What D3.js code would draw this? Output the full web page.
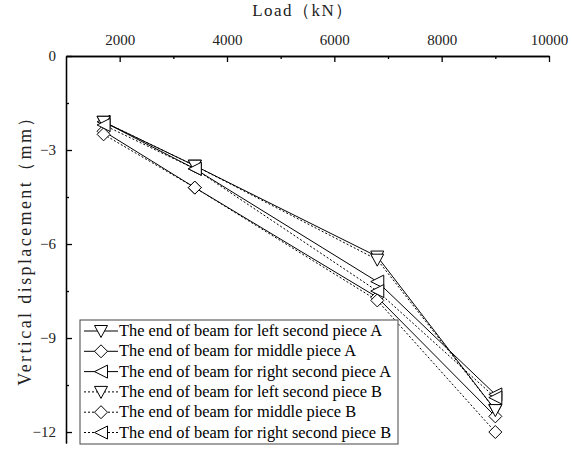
<!DOCTYPE html>
<html>
<head>
<meta charset="utf-8">
<script src="https://cdnjs.cloudflare.com/ajax/libs/d3/7.8.5/d3.min.js"></script>
<style>
  body { margin: 0; background: #fff; }
  svg { display: block; }
</style>
</head>
<body>
<svg width="572" height="453"></svg>
<script>
// load steps (kN)
var loads = [1700, 3400, 6800, 9000];

// vertical displacement (mm)
var leftA   = [-2.1, -3.5, -6.4, -11.3];
var middleA = [-2.4, -4.2, -7.7, -11.5];
var rightA  = [-2.1, -3.6, -7.2, -10.8];
var leftB   = [-2.1, -3.5, -6.5, -11.3];
var middleB = [-2.5, -4.2, -7.8, -12.0];
var rightB  = [-2.2, -3.6, -7.5, -10.9];

var seriesNames = [
  "The end of beam for left second piece A",
  "The end of beam for middle piece A",
  "The end of beam for right second piece A",
  "The end of beam for left second piece B",
  "The end of beam for middle piece B",
  "The end of beam for right second piece B"
];

var xTicks = [2000, 4000, 6000, 8000, 10000];
var yTicks = [0, -3, -6, -9, -12];

var series = [
  {name: seriesNames[0], values: leftA,   marker: "down",    dash: null},
  {name: seriesNames[1], values: middleA, marker: "diamond", dash: null},
  {name: seriesNames[2], values: rightA,  marker: "left",    dash: null},
  {name: seriesNames[3], values: leftB,   marker: "down",    dash: "2,2"},
  {name: seriesNames[4], values: middleB, marker: "diamond", dash: "2,2"},
  {name: seriesNames[5], values: rightB,  marker: "left",    dash: "2,2"}
];

var svg = d3.select("svg");

var x = d3.scaleLinear().domain([1000, 10000]).range([66, 549]);
var y = d3.scaleLinear().domain([0, -12.35]).range([56, 443]);

function markerPath(type) {
  if (type == "down") return "M-6.5,-5.5L6.5,-5.5L0,6.5Z";
  if (type == "left") return "M-6.5,0L6.5,-6.5L6.5,6.5Z";
  return "M0,-6.5L6.5,0L0,6.5L-6.5,0Z";
}

// top axis
var xAxis = svg.append("g")
    .attr("transform", "translate(0," + y(0) + ")")
    .call(d3.axisTop(x).tickValues(xTicks).tickSize(-6).tickSizeOuter(0).tickFormat(d3.format("d")));
svg.append("g")
    .attr("transform", "translate(0," + y(0) + ")")
    .call(d3.axisTop(x).tickValues([3000, 5000, 7000, 9000]).tickSize(-3).tickSizeOuter(0).tickFormat(""));

// left axis
var yAxis = svg.append("g")
    .attr("transform", "translate(" + x(1000) + ",0)")
    .call(d3.axisLeft(y).tickValues(yTicks).tickSize(-6).tickSizeOuter(0));
svg.append("g")
    .attr("transform", "translate(" + x(1000) + ",0)")
    .call(d3.axisLeft(y).tickValues([-1.5, -4.5, -7.5, -10.5]).tickSize(-3).tickSizeOuter(0).tickFormat(""));

svg.selectAll(".domain").attr("stroke", "#000").attr("stroke-width", 1.3);
svg.selectAll(".tick line").attr("stroke", "#000").attr("stroke-width", 1.3);
svg.selectAll(".tick text")
    .attr("font-family", "'Liberation Serif', serif")
    .attr("font-size", 15)
    .attr("fill", "#222");
xAxis.selectAll(".tick text").attr("y", -11);
yAxis.selectAll(".tick text").attr("x", -10);

// axis titles
svg.append("text")
    .attr("x", 303).attr("y", 16)
    .attr("text-anchor", "middle")
    .attr("font-family", "'Liberation Serif', serif")
    .attr("font-size", 17)
    .attr("letter-spacing", 1.5)
    .attr("fill", "#222")
    .text("Load（kN）");

svg.append("text")
    .attr("transform", "translate(31," + 246 + ") rotate(-90)")
    .attr("text-anchor", "middle")
    .attr("font-family", "'Liberation Serif', serif")
    .attr("font-size", 18)
    .attr("letter-spacing", 2.4)
    .attr("fill", "#222")
    .text("Vertical displacement（mm）");

// lines
var line = d3.line()
    .x(function(d, i) { return x(loads[i]); })
    .y(function(d) { return y(d); });

series.forEach(function(s) {
  svg.append("path")
      .attr("d", line(s.values))
      .attr("fill", "none")
      .attr("stroke", "#000")
      .attr("stroke-width", 1)
      .attr("stroke-dasharray", s.dash);
});

series.forEach(function(s) {
  svg.append("g").selectAll("path")
      .data(s.values)
      .enter().append("path")
      .attr("transform", function(d, i) { return "translate(" + x(loads[i]) + "," + y(d) + ")"; })
      .attr("d", markerPath(s.marker))
      .attr("fill", "#fff")
      .attr("stroke", "#000")
      .attr("stroke-width", 1);
});

// legend
var legend = svg.append("g").attr("transform", "translate(80,320)");
legend.append("rect")
    .attr("width", 318).attr("height", 124)
    .attr("fill", "#fff")
    .attr("stroke", "#444")
    .attr("stroke-width", 1);

var item = legend.selectAll(".item")
    .data(series)
    .enter().append("g")
    .attr("class", "item")
    .attr("transform", function(d, i) { return "translate(0," + (11 + i * 20.3) + ")"; });

item.append("line")
    .attr("x1", 4).attr("x2", 38)
    .attr("stroke", "#000")
    .attr("stroke-width", 1)
    .attr("stroke-dasharray", function(d) { return d.dash; });
item.append("path")
    .attr("transform", "translate(21,0)")
    .attr("d", function(d) { return markerPath(d.marker); })
    .attr("fill", "#fff")
    .attr("stroke", "#000");
item.append("text")
    .attr("x", 39).attr("y", 5)
    .attr("font-family", "'Liberation Serif', serif")
    .attr("font-size", 16.4)
    .text(function(d) { return d.name; });
</script>
</body>
</html>
